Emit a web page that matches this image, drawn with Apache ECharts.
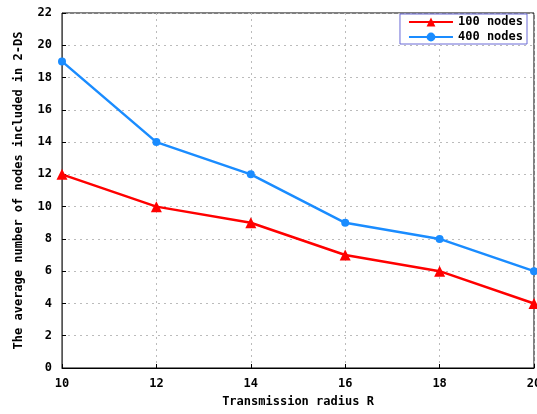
<!DOCTYPE html>
<html>
<head>
<meta charset="utf-8">
<script src="https://cdn.jsdelivr.net/npm/echarts@6/dist/echarts.min.js"></script>
<style>
  html, body { margin: 0; padding: 0; background: #fff; }
  #chart { width: 537px; height: 414px; }
</style>
</head>
<body>
<div id="chart"></div>
<script>
  // transmission radius R
  const radius = [10, 12, 14, 16, 18, 20];
  const nodes100 = [12, 10, 9, 7, 6, 4];
  const nodes400 = [19, 14, 12, 9, 8, 6];

  const font = 'DejaVu Sans Mono';
  const pairs = arr => radius.map((r, i) => [r, arr[i]]);

  const chart = echarts.init(document.getElementById('chart'));
  chart.setOption({
    animation: false,
    textStyle: { fontFamily: font },
    grid: {
      left: 62, right: 3, top: 13, bottom: 46,
      outerBoundsMode: 'none',
      containLabel: false,
      show: true, borderColor: '#000', borderWidth: 1
    },
    legend: {
      right: 10, top: 14,
      orient: 'vertical',
      itemGap: 3,
      itemWidth: 44,
      itemHeight: 11,
      padding: [2, 4, 1, 8],
      borderColor: '#6a6ad6',
      borderWidth: 1,
      backgroundColor: '#fff',
      textStyle: { fontFamily: font, fontWeight: 'bold', fontSize: 12, color: '#000' },
      data: ['100 nodes', '400 nodes']
    },
    xAxis: {
      type: 'value',
      min: 10, max: 20, interval: 2,
      name: 'Transmission radius R',
      nameLocation: 'middle',
      nameGap: 28,
      nameTextStyle: { fontFamily: font, fontWeight: 'bold', fontSize: 12, color: '#000' },
      axisLine: { lineStyle: { color: '#000' } },
      axisTick: { inside: true, length: 4, lineStyle: { color: '#000' } },
      axisLabel: { fontFamily: font, fontWeight: 'bold', fontSize: 12, color: '#000', margin: 10 },
      splitLine: { show: true, lineStyle: { color: '#bbb', type: [2, 4] } }
    },
    yAxis: {
      type: 'value',
      min: 0, max: 22, interval: 2,
      name: 'The average number of nodes included in 2-DS',
      nameLocation: 'middle',
      nameGap: 37,
      nameTextStyle: { fontFamily: font, fontWeight: 'bold', fontSize: 12, color: '#000' },
      axisLine: { show: true, lineStyle: { color: '#555' } },
      axisTick: { inside: true, length: 4, lineStyle: { color: '#000' } },
      axisLabel: { fontFamily: font, fontWeight: 'bold', fontSize: 12, color: '#000', margin: 10 },
      splitLine: { show: true, lineStyle: { color: '#bbb', type: [2, 4] } }
    },
    series: [
      {
        name: '100 nodes',
        type: 'line',
        data: pairs(nodes100),
        symbol: 'triangle',
        symbolSize: 11,
        color: '#ff0000',
        lineStyle: { width: 2.5, color: '#ff0000' }
      },
      {
        name: '400 nodes',
        type: 'line',
        data: pairs(nodes400),
        symbol: 'circle',
        symbolSize: 8,
        color: '#1a8cff',
        lineStyle: { width: 2.5, color: '#1a8cff' }
      }
    ]
  });
</script>
</body>
</html>
